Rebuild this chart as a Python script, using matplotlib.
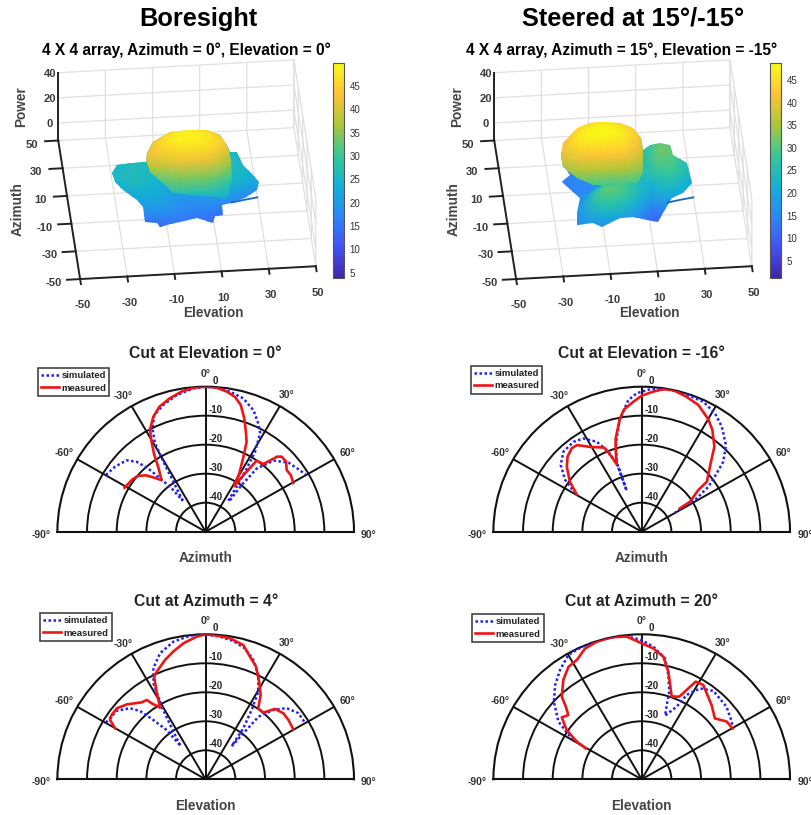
import numpy as np
import matplotlib
matplotlib.use('Agg')
import matplotlib.pyplot as plt
from matplotlib.colors import LinearSegmentedColormap, Normalize
from matplotlib.path import Path
from matplotlib.transforms import Affine2D
from mpl_toolkits.mplot3d import proj3d

plt.rcParams['font.family'] = ['Liberation Sans', 'DejaVu Sans']
plt.rcParams['axes.unicode_minus'] = False

W, H = 812, 815

parula = LinearSegmentedColormap.from_list('parula', [
    '#3e26a8', '#4352f4', '#2d87f7', '#12b1d6', '#37c897',
    '#abc739', '#fec338', '#f9fb15'])

# 3D panels: power on elevation / azimuth grids, side lobes and main lobe apart
lobe_el = [-35, -30, -25, -20, -15, -10, -5, 0, 5, 10, 15, 20, 25, 30]
lobe_az = [15, 5, -5, -15, -20, -25, -30, -35, -40, -45]
bore_lobes = [
    [22, 22, 24, 24, 24, 24, 24, 24, 24, 24, 24, 24, 22, 20],
    [23, 23, 24, 25, 25, 25, 25, 25, 25, 25, 25, 25, 24, 22],
    [24, 25, 26, 26, 26, 26, 26, 26, 26, 26, 26, 26, 24, 22],
    [24, 26, 27, 26, 25, 24, 24, 24, 24, 24, 25, 26, 24, 22],
    [23, 24, 26, 25, 24, 22, 21, 21, 21, 22, 24, 25, 23, 21],
    [20, 21, 23, 23, 23, 21, 20, 20, 20, 21, 21, 20, 18, 16],
    [17, 18, 20, 21, 22, 20, 18, 18, 18, 18, 17, 16, 14, 13],
    [14, 15, 16, 17, 19, 18, 17, 16, 16, 14, 13, 11, 11, 10],
    [11, 12, 13, 13, 13, 15, 15, 15, 15, 10, 9, 8, 9, 9],
    [9, 9, 9, 8, 7, 11, 13, 13, 13, 8, 7, 8, 8, 8],
]
steer_lobes = [
    [15, 15, 15, 15, 15, 20, 20, 22, 24, 26, 28, 28, 25, 22],
    [15, 15, 15, 15, 15, 20, 20, 22, 24, 27, 30, 30, 27, 22],
    [14, 14, 14, 15, 15, 20, 20, 22, 24, 27, 32, 31, 26, 22],
    [14, 14, 14, 15, 15, 20, 20, 22, 24, 26, 29, 29, 25, 21],
    [14, 14, 14, 16, 19, 24, 26, 25, 24, 22, 26, 26, 22, 18],
    [14, 14, 15, 17, 24, 29, 30, 28, 24, 20, 23, 22, 19, 16],
    [13, 14, 15, 19, 27, 31, 30, 27, 21, 14, 17, 19, 16, 14],
    [12, 14, 15, 19, 25, 28, 27, 23, 15, 11, 12, 15, 13, 11],
    [11, 13, 14, 17, 20, 21, 20, 17, 12, 9, 9, 12, 11, 9],
    [10, 12, 13, 14, 15, 15, 14, 12, 10, 8, 8, 10, 10, 8],
]

dome_az = [5, 0, -5, -10, -15, -20, -25, -30, -35]
bore_dome_el = [-25, -20, -15, -10, -5, 0, 5, 10, 15, 20]
bore_dome = [
    [30, 33, 36, 38, 39, 39, 39, 38, 36, 34],
    [33, 36, 38, 42, 45, 46, 45, 44, 40, 36],
    [35, 38, 42, 46, 48, 49, 48, 46, 43, 38],
    [36, 40, 44, 47, 48.5, 49, 48.5, 47, 44, 39],
    [36, 40, 43, 45, 46.5, 47, 46.5, 45, 40, 35],
    [33, 36, 38, 40, 42, 42, 42, 40, 35, 31],
    [29, 30, 31, 33, 34.5, 34.5, 34.5, 33, 29, 26],
    [25, 26, 26, 27, 27.5, 27.5, 27.5, 27, 25, 24],
    [22, 22, 22, 22, 22, 22, 22, 22, 22, 22],
]
steer_dome_az = [10, 5, 0, -5, -10, -15, -20, -25, -30]
steer_dome_el = [-35, -30, -25, -20, -15, -10, -5, 0, 5, 10]
steer_dome = [
    [30, 32, 34, 38, 41, 42, 42, 41, 38, 34],
    [34, 36, 38, 43, 45, 46, 46, 44, 41, 36],
    [36, 38, 41, 45, 47, 48, 47.5, 46, 43, 38],
    [37, 39, 42, 46, 48, 48.5, 48, 46.5, 43, 37],
    [36, 39, 41, 45, 46, 46.5, 46, 45, 41, 36],
    [34, 36, 38, 41, 42, 42.5, 42.5, 41, 38, 33],
    [30, 32, 33, 35, 36, 36, 36, 35.5, 33, 30],
    [25, 27, 28, 29, 29, 29, 29, 29, 28, 26],
    [24, 24, 24, 24, 24, 24, 24, 24, 24, 24],
]

tail_el = [17, 22, 28]
tail_az = [-20, -20, -20]
tail_p = [7, 8.5, 10]

# outlines of the surface on the picture, used as clip masks
bore_outer_x = [190, 207, 220, 228, 230, 237, 243, 253, 259, 257, 245, 230, 222, 223, 215, 213, 197, 180, 170, 160, 157, 145, 143, 137, 123, 115, 112, 117, 132, 146, 147, 153, 170]
bore_outer_y = [130, 130, 135, 147, 152, 152, 165, 175, 182, 190, 198, 203, 205, 215, 216, 223, 218, 222, 224, 227, 223, 222, 207, 200, 190, 182, 173, 165, 163, 162, 153, 142, 132]
bore_dome_x = [146, 150, 163, 173, 200, 217, 227, 232, 231, 228, 220, 207, 190, 170, 153, 147]
bore_dome_y = [160, 172, 183, 193, 196, 197, 198, 180, 160, 147, 135, 130, 130, 132, 142, 153]
steer_outer_x = [602, 620, 633, 641, 643, 650, 660, 670, 673, 687, 692, 683, 672, 663, 658, 647, 633, 620, 612, 602, 593, 577, 577, 580, 573, 562, 563, 570, 563, 561, 563, 577, 590]
steer_outer_y = [122, 123, 128, 138, 150, 145, 143, 145, 155, 163, 183, 193, 198, 213, 222, 220, 217, 218, 222, 227, 223, 225, 213, 198, 192, 182, 181, 175, 165, 157, 143, 128, 123]
steer_dome_x = [561, 563, 577, 593, 613, 637, 643, 643, 641, 633, 620, 602, 590, 577, 563]
steer_dome_y = [157, 167, 178, 185, 185, 183, 173, 150, 138, 128, 123, 122, 123, 128, 143]

axis_ticks = [-50, -30, -10, 10, 30, 50]
power_ticks = [0, 20, 40]
cbar_ticks = [5, 10, 15, 20, 25, 30, 35, 40, 45]

# cuts: angle in degrees and level in dB
a_meas_t = [-61, -54, -50, -46, -43, -40, -36, -33, -29.6, -27.7, -24, -20, -15, -9.6, -4.8, 0, 4.3, 8.5, 12, 15.1, 18.4, 21.8, 24, 26.2, 29.4, 31.3, 33.4, 35, 39.8, 43, 44.7, 48.3, 52.1, 55.7, 60.3]
a_meas_r = [-18.7, -19.4, -20.1, -22, -24.5, -26.8, -23, -18, -12.4, -9.8, -6.6, -4.2, -2.5, -1, -0.2, 0, -0.2, -1.2, -2.5, -4.7, -8.8, -13.4, -16.1, -21.2, -26.9, -31.6, -26, -20.1, -19.6, -14.6, -13.6, -13.7, -15.4, -15.3, -16]
a_sim_t = [-59.8, -53.7, -47.3, -44, -41.6, -39.9, -37.5, -36, None, -36, -32.3, -30.6, -29.3, -26.8, -23.3, -18.1, -11.7, -4.8, 0, 4.3, 9.6, 15.4, 21, 25.4, 28.4, 31.1, 32.4, 33.5, 35.6, None, 37, 37, 38.3, 43, 49.5, 56.3, 59.9]
a_sim_r = [-11.1, -12.1, -13.7, -16.5, -20.9, -26, -31.2, -36.8, None, -36.8, -29.6, -22, -15.1, -10.1, -6.2, -4, -1.9, -0.4, 0, -0.2, -1, -2.3, -5.1, -8.7, -11.4, -17.8, -24.2, -30, -36.9, None, -36.4, -29.9, -22.2, -16.5, -13.3, -11.8, -11]

b_meas_t = [-59.6, -54.6, -48.5, -44, -39.4, -36.2, -30.7, -23.5, -21.4, -19.9, -17.3, -15.3, -10.6, -8, -3.6, 0, 4.7, 8.5, 12.3, 18, 23.6, 30.1, 34.2, 39.9, 44.6, 51.9, 53, 57.6, 58]
b_meas_r = [-24.6, -20.3, -16.3, -14, -12.8, -13, -16, -18.4, -22.2, -25.3, -20.5, -16.7, -10.2, -7.4, -5.1, -3.1, -1.5, -0.3, 0, -1.1, -2.3, -5.2, -7.6, -11.8, -16.9, -22.1, -26.1, -30.7, -34.8]
b_sim_t = [-59.5, -55.3, -49.9, -43.7, -36.6, -31.5, -26, -22.2, -19.3, -19.7, -19.7, -15.9, -11, -5.7, -2, 3.3, 9.7, 16.4, 24.9, 31.2, 36.7, 43.6, 48.7, 51.5, 55.4, 58.3, 58.4, 59.9]
b_sim_r = [-24, -18.6, -14.3, -11.8, -11.4, -12.3, -15.5, -20.2, -26.2, -35, -25, -18.3, -10.8, -4.4, -2.2, -0.8, -0.2, -0.2, -0.6, -2.3, -4.8, -8.8, -13.4, -17.7, -22.7, -28.2, -33.5, -37]

c_meas_t = [-60, -57.6, -55, -50.8, -45.9, -39.1, -36, -34.8, -31.9, -28.7, -26.2, -24, -18.4, -13.9, -9.1, -3.5, 0, 4.3, 9.6, 15.3, 19.5, 23.6, 28.6, 32.5, 35.9, 40.2, 43.9, 49, 53.7, 59.6]
c_meas_r = [-14.7, -11.8, -11.3, -11.3, -12.9, -15.8, -16.2, -18.1, -20.9, -15.5, -10.6, -9.4, -6.6, -4.6, -2.5, -0.7, 0, -0.3, -0.7, -2, -5.2, -7.6, -12.2, -15.5, -19.8, -19.9, -16.3, -15.3, -15.4, -15.8]
c_sim_t = [-59.8, -51.8, -46.2, -43.2, -40.8, -37.8, -36.3, None, -36.3, -33, -30.6, -28, -24.7, -19.5, -12.9, -6.1, 0, 5.6, 11.1, 16.4, 21.3, 26.3, 30.4, 32.9, 35.8, 37.4, None, 37.4, 38.7, 39.5, 43.6, 48, 53.9, 59]
c_sim_r = [-11.1, -11.8, -14.6, -17.7, -23, -28.5, -35.4, None, -35.4, -29, -20.9, -12.5, -7.8, -3.9, -1.3, -0.2, 0, -0.6, -1.4, -3, -5.8, -9.9, -15, -21.5, -28.3, -35.6, None, -35.6, -29.7, -22, -17, -13.3, -11.3, -11.3]

d_meas_t = [-60.5, -59.3, -56.1, -51.6, -48.2, -45.6, -43.4, -37.6, -32.4, -28, -22.9, -17.7, -11.6, -5.9, 0, 5, 9.8, 13.6, 19.5, 24, 28.4, 32.5, 42.6, 49.6, 55.2, 60.3]
d_meas_r = [-28.3, -24.5, -19.5, -15.6, -16.8, -14.2, -10.8, -6.7, -4, -3.4, -1, -0.2, 0, -0.5, -3.1, -4.7, -7.1, -11.8, -19.7, -18.8, -11.7, -11.4, -15.2, -17.6, -15.1, -14.7]
d_sim_t = [-60.5, -58.6, -54.7, -47.9, -41.9, -36.1, -30, -23, -14.9, -7, 0, 4.9, 10.7, 14, 17.1, 17.9, 19.7, 25.2, 27.5, 32.1, 38.4, 48.8, 56.7, 60.3]
d_sim_r = [-28.3, -21.7, -15.6, -10.1, -6.3, -3.3, -0.5, 0, 0, 0, -2, -4.1, -7.6, -12.9, -18.4, -21.9, -26.7, -22.3, -17.2, -13, -11.1, -12, -13.7, -14.7]


def frac_x(px):
    return px / W


def frac_y(py):
    return 1 - py / H


def put_text(px, py, s, **kw):
    kw.setdefault('ha', 'center')
    kw.setdefault('va', 'center')
    return fig.text(frac_x(px), frac_y(py), s, **kw)


def surface(over, ax, el_vals, az_vals, power, norm, outline_x, outline_y):
    el, az = np.meshgrid(el_vals, az_vals)
    p = np.array(power, dtype=float)
    sx, sy, sz = proj3d.proj_transform(el.ravel(), az.ravel(), p.ravel(), ax.get_proj())
    tris = []
    nr, nc = p.shape
    for i in range(nr - 1):
        for j in range(nc - 1):
            a, b, c, d = i * nc + j, i * nc + j + 1, (i + 1) * nc + j, (i + 1) * nc + j + 1
            tris.append((a, b, c))
            tris.append((b, d, c))
    tris = np.array(tris)
    tris = tris[np.argsort(-sz[tris].mean(axis=1))]
    mesh = over.tripcolor(sx, sy, tris, p.ravel(), shading='gouraud', cmap=parula, norm=norm,
                          transform=ax.transData)
    verts = np.column_stack([outline_x, outline_y])
    to_display = Affine2D().scale(1, -1).translate(0, H)
    mesh.set_clip_path(Path(np.vstack([verts, verts[0]]), closed=True), to_display)
    return mesh


def panel_3d(x0, title, lobes, dome_el, dome_az_vals, dome, outer, inner, vmin, vmax, cbar_x):
    size = 335
    left = x0 - 43
    top = 6.5
    ax = fig.add_axes([frac_x(left), frac_y(top + size), size / W, size / H],
                      projection='3d', proj_type='ortho')
    ax.view_init(elev=36, azim=-95.3)
    ax.set_xlim(-50, 50)
    ax.set_ylim(-50, 50)
    ax.set_zlim(-14, 40)
    ax.set_box_aspect((1, 1, 0.354))
    ax.patch.set_alpha(0)
    ax.set_xticks(axis_ticks)
    ax.set_yticks(axis_ticks)
    ax.set_zticks(power_ticks)
    for axis in (ax.xaxis, ax.yaxis, ax.zaxis):
        axis.set_pane_color((1, 1, 1, 0))
        axis.pane.set_edgecolor('none')
        axis._axinfo['grid'].update(color='#e0e0e0', linewidth=0.9)
        axis._axinfo['axisline']['color'] = '#222222'
        axis.line.set_linewidth(1.4)
        axis.line.set_color('#222222')
    ax.xaxis._axinfo['tick'].update(inward_factor=0.45, outward_factor=0, linewidth={True: 1.4, False: 1.4})
    ax.yaxis._axinfo['tick'].update(inward_factor=0.7, outward_factor=0, linewidth={True: 1.4, False: 1.4})
    ax.zaxis._axinfo['tick'].update(inward_factor=0, outward_factor=0, linewidth={True: 0, False: 0})
    ax.tick_params(labelsize=8, labelcolor='#3a3a3a', colors='#222222', pad=0)
    ax.tick_params(axis='x', pad=5)
    ax.tick_params(axis='y', pad=6)
    ax.tick_params(axis='z', pad=-4)
    for lbl in ax.get_xticklabels() + ax.get_yticklabels() + ax.get_zticklabels():
        lbl.set_fontweight('bold')
    for lbl in ax.get_yticklabels():
        lbl.set_va('bottom')

    over = fig.add_axes(ax.get_position(), zorder=ax.get_zorder() + 1)
    over.axis('off')
    norm = Normalize(vmin, vmax)
    mesh = surface(over, ax, lobe_el, lobe_az, lobes, norm, outer[0], outer[1])
    surface(over, ax, dome_el, dome_az_vals, dome, norm, inner[0], inner[1])
    tx, ty, _ = proj3d.proj_transform(np.array(tail_el, float), np.array(tail_az, float),
                                      np.array(tail_p, float), ax.get_proj())
    over.plot(tx, ty, color='#1668c4', lw=1.3, transform=ax.transData, clip_on=False)

    cax = fig.add_axes([frac_x(cbar_x), frac_y(278), 11 / W, 215 / H])
    cb = fig.colorbar(mesh, cax=cax, ticks=cbar_ticks)
    cb.outline.set_edgecolor('#555555')
    cb.outline.set_linewidth(0.8)
    cax.tick_params(labelsize=7, labelcolor='#333333', length=0, pad=4)

    put_text(x0 + 128, 50, title, fontsize=11.2, fontweight='bold')
    put_text(x0 + 155, 313, 'Elevation', fontsize=9.8, fontweight='bold', color='#444444')
    put_text(x0 - 40, 209, 'Azimuth', fontsize=9.8, fontweight='bold', color='#444444', rotation=90)
    put_text(x0 - 37, 107, 'Power', fontsize=9.8, fontweight='bold', color='#444444', rotation=90)


def panel_cut(cx, cy, legend_xy, title, xlabel, label_y, sim_t, sim_r, meas_t, meas_r):
    rx, ry = 148.3, 145
    left = cx - rx
    top = cy - ry / 2 - ry
    ax = fig.add_axes([frac_x(left), frac_y(top + 2 * ry), 2 * rx / W, 2 * ry / H], projection='polar')
    ax.set_theta_zero_location('N')
    ax.set_theta_direction(-1)
    ax.set_thetamin(-90)
    ax.set_thetamax(90)
    ax.set_rlim(0, 50)
    ax.set_aspect('auto')
    ax.set_thetagrids([-60, -30, 0, 30, 60], [''] * 5)
    ax.set_rgrids([10, 20, 30, 40], [''] * 4)
    ax.grid(True, color='#111111', lw=1.4)
    for spine in ax.spines.values():
        spine.set_color('#111111')
        spine.set_linewidth(1.5)
    ax.tick_params(length=0)

    st = np.radians([np.nan if v is None else v for v in sim_t])
    sr = np.array([np.nan if v is None else v + 50 for v in sim_r])
    ax.plot(st, sr, color='#1f1fff', lw=1.8, ls=(0, (1, 1)), label='simulated', zorder=3)
    ax.plot(np.radians(meas_t), np.array(meas_r) + 50, color='#f01414', lw=1.9, label='measured', zorder=4)

    for deg, lbl, off in ((-90, '-90°', (-16, -3)), (-60, '-60°', (-13, 6)), (-30, '-30°', (-8, 10)),
                          (0, '0°', (0, 13)), (30, '30°', (7, 11)), (60, '60°', (13, 6)), (90, '90°', (15, -3))):
        ax.annotate(lbl, xy=(np.radians(deg), 50), xytext=off, textcoords='offset pixels',
                    ha='center', va='center', fontsize=7.5, color='#333333', fontweight='bold', annotation_clip=False)
    for db in (0, -10, -20, -30, -40):
        ax.annotate(str(db), xy=(0, db + 50), xytext=(10, 6), textcoords='offset pixels',
                    ha='center', va='center', fontsize=7, color='#222222', fontweight='bold', annotation_clip=False)

    leg = ax.legend(loc='upper left', bbox_to_anchor=(frac_x(legend_xy[0]), frac_y(legend_xy[1])),
                    bbox_transform=fig.transFigure, fancybox=False, framealpha=1, edgecolor='#333333',
                    fontsize=6.8, borderaxespad=0, handlelength=1.9, handletextpad=0.25, labelspacing=0.35,
                    borderpad=0.35, labelcolor='#222222')
    leg.get_frame().set_linewidth(1.1)
    for t in leg.get_texts():
        t.set_fontweight('bold')

    put_text(cx, cy - 178, title, fontsize=11.3, fontweight='bold', color='#222222')
    put_text(cx, label_y, xlabel, fontsize=9.8, fontweight='bold', color='#444444')


fig = plt.figure(figsize=(W / 100, H / 100), dpi=100, facecolor='white')

put_text(198, 19, 'Boresight', fontsize=18.3, fontweight='bold')
put_text(633.5, 19, 'Steered at 15°/-15°', fontsize=18.3, fontweight='bold')

panel_3d(58, '4 X 4 array, Azimuth = 0°, Elevation = 0°', bore_lobes, bore_dome_el, dome_az, bore_dome,
         (bore_outer_x, bore_outer_y), (bore_dome_x, bore_dome_y), 3.9, 49.9, 333)
panel_3d(494, '4 X 4 array, Azimuth = 15°, Elevation = -15°', steer_lobes, steer_dome_el, steer_dome_az, steer_dome,
         (steer_outer_x, steer_outer_y), (steer_dome_x, steer_dome_y), 1.2, 48.8, 770)

panel_cut(205.7, 531.7, (37.7, 368), 'Cut at Elevation = 0°', 'Azimuth', 558, a_sim_t, a_sim_r, a_meas_t, a_meas_r)
panel_cut(641.7, 531.7, (470.7, 365.7), 'Cut at Elevation = -16°', 'Azimuth', 558, b_sim_t, b_sim_r, b_meas_t, b_meas_r)
panel_cut(205.7, 779.3, (40, 613), 'Cut at Azimuth = 4°', 'Elevation', 806, c_sim_t, c_sim_r, c_meas_t, c_meas_r)
panel_cut(641.7, 779.3, (472, 614), 'Cut at Azimuth = 20°', 'Elevation', 806, d_sim_t, d_sim_r, d_meas_t, d_meas_r)

fig.savefig('out.png', dpi=100)
